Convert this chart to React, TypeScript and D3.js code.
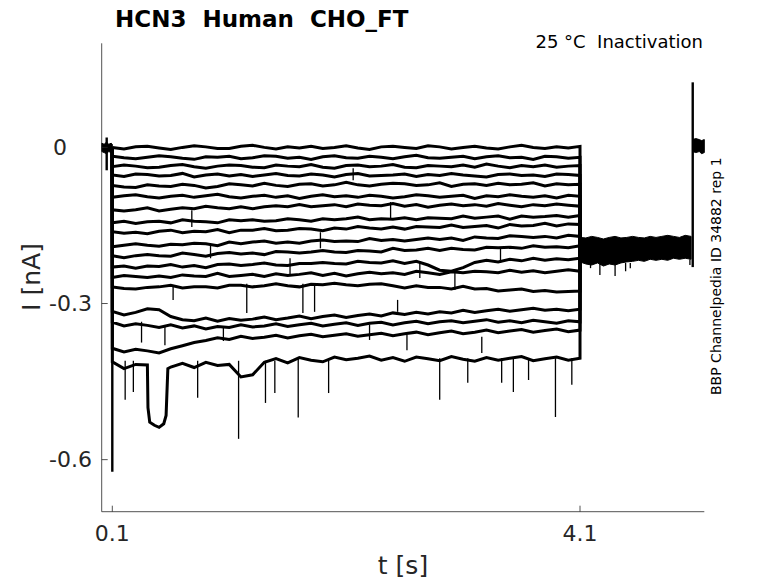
import { useRef, useEffect } from 'react';
import * as d3 from 'd3';

const W = 778;
const H = 583;

// sweeps are sampled every 0.1 s from 0.1 s to 4.1 s (values in nA)
const SWEEP_T0 = 0.1;
const SWEEP_DT = 0.1;

const sweep01 = [0.000, -0.003, 0.001, 0.002, -0.001, -0.004, 0.000, 0.003, 0.001, -0.002, -0.002, 0.002, 0.004, 0.000, -0.003, 0.001, -0.001, 0.002, -0.002, 0.000, 0.003, -0.001, -0.004, 0.001, 0.002, 0.000, -0.002, 0.003, 0.001, -0.003, 0.000, 0.002, -0.001, -0.003, 0.001, 0.004, 0.000, -0.002, 0.001, -0.001, 0.002];
const sweep02 = [-0.017, -0.020, -0.022, -0.019, -0.016, -0.018, -0.021, -0.023, -0.018, -0.019, -0.017, -0.022, -0.020, -0.016, -0.017, -0.021, -0.019, -0.023, -0.018, -0.016, -0.020, -0.021, -0.017, -0.019, -0.022, -0.018, -0.015, -0.020, -0.021, -0.019, -0.017, -0.022, -0.018, -0.016, -0.020, -0.019, -0.023, -0.017, -0.018, -0.021, -0.019];
const sweep03 = [-0.037, -0.034, -0.036, -0.039, -0.038, -0.035, -0.033, -0.037, -0.040, -0.036, -0.034, -0.035, -0.038, -0.039, -0.034, -0.036, -0.037, -0.033, -0.038, -0.040, -0.035, -0.034, -0.037, -0.036, -0.033, -0.038, -0.039, -0.035, -0.036, -0.037, -0.034, -0.038, -0.032, -0.036, -0.039, -0.035, -0.037, -0.034, -0.038, -0.036, -0.035];
const sweep04 = [-0.053, -0.056, -0.051, -0.052, -0.055, -0.054, -0.050, -0.057, -0.053, -0.051, -0.055, -0.052, -0.056, -0.053, -0.050, -0.054, -0.055, -0.051, -0.053, -0.057, -0.052, -0.050, -0.055, -0.054, -0.053, -0.051, -0.056, -0.052, -0.054, -0.050, -0.053, -0.055, -0.057, -0.052, -0.051, -0.054, -0.053, -0.056, -0.051, -0.052, -0.054];
const sweep05 = [-0.073, -0.076, -0.077, -0.072, -0.074, -0.075, -0.071, -0.073, -0.078, -0.075, -0.070, -0.072, -0.074, -0.069, -0.073, -0.075, -0.071, -0.070, -0.074, -0.072, -0.067, -0.072, -0.074, -0.071, -0.069, -0.070, -0.073, -0.072, -0.068, -0.075, -0.071, -0.070, -0.073, -0.069, -0.072, -0.071, -0.068, -0.074, -0.070, -0.072, -0.071];
const sweep06 = [-0.096, -0.093, -0.091, -0.095, -0.097, -0.094, -0.092, -0.096, -0.093, -0.090, -0.095, -0.097, -0.094, -0.092, -0.096, -0.093, -0.098, -0.094, -0.091, -0.095, -0.093, -0.096, -0.092, -0.094, -0.097, -0.095, -0.091, -0.093, -0.096, -0.094, -0.092, -0.098, -0.093, -0.095, -0.091, -0.094, -0.096, -0.093, -0.097, -0.092, -0.094];
const sweep07 = [-0.120, -0.122, -0.120, -0.116, -0.122, -0.119, -0.116, -0.118, -0.113, -0.116, -0.118, -0.114, -0.118, -0.114, -0.112, -0.114, -0.110, -0.114, -0.112, -0.110, -0.114, -0.109, -0.111, -0.112, -0.108, -0.113, -0.110, -0.115, -0.111, -0.109, -0.112, -0.110, -0.113, -0.108, -0.111, -0.114, -0.110, -0.112, -0.109, -0.111, -0.113];
const sweep08 = [-0.145, -0.142, -0.146, -0.143, -0.142, -0.145, -0.139, -0.142, -0.143, -0.145, -0.139, -0.141, -0.139, -0.142, -0.141, -0.137, -0.139, -0.142, -0.137, -0.139, -0.137, -0.134, -0.139, -0.137, -0.138, -0.135, -0.139, -0.135, -0.136, -0.137, -0.132, -0.136, -0.134, -0.132, -0.138, -0.132, -0.134, -0.133, -0.131, -0.134, -0.131];
const sweep09 = [-0.162, -0.165, -0.163, -0.166, -0.161, -0.159, -0.164, -0.161, -0.162, -0.158, -0.164, -0.159, -0.159, -0.156, -0.160, -0.159, -0.156, -0.157, -0.160, -0.155, -0.157, -0.152, -0.155, -0.157, -0.153, -0.157, -0.152, -0.153, -0.154, -0.149, -0.154, -0.152, -0.150, -0.155, -0.148, -0.151, -0.150, -0.146, -0.151, -0.147, -0.148];
const sweep10 = [-0.191, -0.188, -0.185, -0.188, -0.190, -0.186, -0.187, -0.184, -0.185, -0.189, -0.182, -0.185, -0.182, -0.180, -0.184, -0.182, -0.184, -0.180, -0.178, -0.181, -0.180, -0.181, -0.175, -0.179, -0.177, -0.180, -0.177, -0.174, -0.177, -0.174, -0.179, -0.172, -0.174, -0.175, -0.170, -0.171, -0.173, -0.171, -0.174, -0.169, -0.171];
const sweep11 = [-0.208, -0.212, -0.208, -0.206, -0.208, -0.209, -0.203, -0.206, -0.209, -0.204, -0.202, -0.205, -0.203, -0.206, -0.200, -0.201, -0.203, -0.201, -0.198, -0.201, -0.202, -0.198, -0.199, -0.201, -0.194, -0.198, -0.197, -0.194, -0.198, -0.194, -0.196, -0.197, -0.192, -0.193, -0.192, -0.194, -0.189, -0.192, -0.191, -0.193, -0.189];
const sweep12 = [-0.230, -0.228, -0.232, -0.228, -0.229, -0.225, -0.230, -0.227, -0.231, -0.225, -0.224, -0.227, -0.225, -0.222, -0.226, -0.227, -0.223, -0.223, -0.221, -0.223, -0.224, -0.219, -0.221, -0.222, -0.218, -0.223, -0.219, -0.226, -0.236, -0.238, -0.231, -0.221, -0.217, -0.220, -0.215, -0.218, -0.213, -0.217, -0.214, -0.216, -0.213];
const sweep13 = [-0.250, -0.246, -0.248, -0.250, -0.247, -0.250, -0.245, -0.247, -0.248, -0.242, -0.248, -0.246, -0.244, -0.248, -0.243, -0.246, -0.244, -0.241, -0.246, -0.242, -0.247, -0.243, -0.240, -0.243, -0.241, -0.244, -0.238, -0.241, -0.244, -0.239, -0.241, -0.238, -0.239, -0.241, -0.236, -0.240, -0.237, -0.241, -0.238, -0.235, -0.238];
const sweep14 = [-0.268, -0.271, -0.272, -0.269, -0.268, -0.265, -0.270, -0.268, -0.268, -0.270, -0.265, -0.265, -0.268, -0.266, -0.262, -0.266, -0.268, -0.263, -0.264, -0.261, -0.264, -0.266, -0.263, -0.262, -0.266, -0.270, -0.266, -0.269, -0.269, -0.272, -0.267, -0.272, -0.271, -0.276, -0.274, -0.272, -0.277, -0.275, -0.278, -0.277, -0.276];
const sweep15 = [-0.315, -0.322, -0.317, -0.310, -0.312, -0.325, -0.331, -0.333, -0.328, -0.334, -0.329, -0.332, -0.330, -0.326, -0.331, -0.328, -0.324, -0.329, -0.325, -0.322, -0.327, -0.323, -0.320, -0.324, -0.318, -0.321, -0.317, -0.320, -0.316, -0.318, -0.313, -0.317, -0.314, -0.311, -0.315, -0.312, -0.309, -0.313, -0.311, -0.314, -0.311];
const sweep16 = [-0.336, -0.343, -0.339, -0.342, -0.346, -0.341, -0.347, -0.343, -0.349, -0.344, -0.346, -0.341, -0.345, -0.343, -0.339, -0.344, -0.341, -0.338, -0.343, -0.340, -0.337, -0.342, -0.338, -0.336, -0.341, -0.337, -0.334, -0.339, -0.335, -0.333, -0.337, -0.334, -0.331, -0.336, -0.333, -0.337, -0.332, -0.335, -0.338, -0.333, -0.335];
const sweep17 = [-0.386, -0.393, -0.388, -0.391, -0.395, -0.387, -0.381, -0.375, -0.371, -0.366, -0.369, -0.363, -0.367, -0.365, -0.361, -0.366, -0.362, -0.359, -0.364, -0.361, -0.358, -0.363, -0.360, -0.357, -0.362, -0.358, -0.355, -0.360, -0.356, -0.353, -0.358, -0.355, -0.351, -0.356, -0.353, -0.350, -0.355, -0.352, -0.349, -0.354, -0.351];
const sweep18 = [-0.412, -0.425, -0.417, -0.418, -0.538, -0.422, -0.415, -0.423, -0.413, -0.419, -0.417, -0.441, -0.437, -0.413, -0.406, -0.414, -0.404, -0.409, -0.412, -0.403, -0.408, -0.405, -0.401, -0.409, -0.404, -0.411, -0.403, -0.406, -0.410, -0.402, -0.407, -0.411, -0.404, -0.409, -0.405, -0.402, -0.410, -0.406, -0.403, -0.409, -0.405];
// the long closure early in the last sweep: [t, nA]
const sweep18Extra: [number, number][] = [
  [0.405, -0.5], [0.42, -0.528], [0.46, -0.534], [0.54, -0.531], [0.56, -0.515], [0.575, -0.425],
];

const sweeps = [
  sweep01, sweep02, sweep03, sweep04, sweep05, sweep06, sweep07, sweep08, sweep09,
  sweep10, sweep11, sweep12, sweep13, sweep14, sweep15, sweep16, sweep17, sweep18,
];
const sweepExtras: Record<number, [number, number][]> = { 17: sweep18Extra };

// holding before the step, all sweeps overlap
const preTimes = [0.01, 0.03, 0.05, 0.07, 0.09, 0.1];
const preHi = [0.008, 0.006, 0.010, 0.006, 0.008, 0.006];
const preLo = [-0.008, -0.010, -0.012, -0.008, -0.010, -0.008];

// tail after the step, all sweeps overlap
const tailTimes = [4.10, 4.15, 4.20, 4.25, 4.30, 4.35, 4.40, 4.45, 4.50, 4.55, 4.60, 4.65, 4.70, 4.75, 4.80, 4.85, 4.90, 4.95, 5.00, 5.05];
const tailHi = [-0.173, -0.174, -0.171, -0.173, -0.176, -0.173, -0.171, -0.174, -0.173, -0.171, -0.173, -0.174, -0.171, -0.173, -0.171, -0.169, -0.171, -0.173, -0.169, -0.171];
const tailLo = [-0.220, -0.224, -0.226, -0.222, -0.228, -0.224, -0.226, -0.222, -0.220, -0.219, -0.217, -0.219, -0.215, -0.217, -0.215, -0.217, -0.213, -0.215, -0.213, -0.215];

// back at holding
const postTimes = [5.064, 5.09, 5.12, 5.14, 5.163];
const postHi = [0.015, 0.017, 0.015, 0.013, 0.015];
const postLo = [-0.008, -0.010, -0.008, -0.012, -0.010];

// capacitive transients: [t, from, to]
const transients: [number, number, number][] = [
  [0.052, 0.019, -0.044],
  [0.1, 0.0, -0.623],
  [5.064, 0.125, -0.230],
];

// short openings / glitches: [t, from, to]
const spikes: [number, number, number][] = [
  [0.21, -0.41, -0.485], [0.28, -0.41, -0.47], [0.83, -0.41, -0.481], [1.18, -0.41, -0.56],
  [1.41, -0.41, -0.491], [1.49, -0.41, -0.472], [1.69, -0.405, -0.519], [1.95, -0.405, -0.472],
  [2.9, -0.405, -0.485], [3.14, -0.405, -0.452], [3.43, -0.405, -0.452], [3.53, -0.405, -0.47],
  [3.66, -0.405, -0.447], [3.89, -0.405, -0.518], [4.03, -0.405, -0.456],
  [0.62, -0.265, -0.293], [1.25, -0.262, -0.318], [1.73, -0.262, -0.318], [1.83, -0.262, -0.316],
  [2.54, -0.293, -0.316], [0.78, -0.121, -0.153], [2.16, -0.04, -0.063], [2.48, -0.105, -0.136],
  [3.26, -0.364, -0.395], [0.94, -0.188, -0.213], [1.62, -0.213, -0.245], [1.88, -0.163, -0.194],
  [2.73, -0.22, -0.251], [3.03, -0.236, -0.274], [3.42, -0.194, -0.222],
  [0.35, -0.335, -0.375], [0.55, -0.345, -0.38], [1.05, -0.345, -0.372], [2.3, -0.34, -0.37],
  [2.62, -0.36, -0.39],
  [4.19, -0.224, -0.232], [4.27, -0.224, -0.245], [4.4, -0.224, -0.247], [4.49, -0.222, -0.238],
  [4.53, -0.222, -0.232], [5.04, -0.215, -0.226],
];

const xTicks = [0.1, 4.1];
const yTicks = [-0.6, -0.3, 0];

const FONT = "'DejaVu Sans', sans-serif";
const AXIS = '#262626';

export default function App() {
  const svgRef = useRef<SVGSVGElement>(null);

  useEffect(() => {
    const svg = d3.select(svgRef.current);
    svg.selectAll('*').remove();

    const x = d3.scaleLinear().domain([0.0093, 5.163]).range([101.7, 704.3]);
    const y = d3.scaleLinear().domain([-0.7, 0.2]).range([511.7, 43.3]);

    svg.append('rect').attr('width', W).attr('height', H).attr('fill', '#fff');

    const plot = svg.append('g');

    const drawBand = (ts: number[], hi: number[], lo: number[]) => {
      const a = d3
        .area<number>()
        .x((t) => x(t))
        .y0((_, i) => y(lo[i]))
        .y1((_, i) => y(hi[i]));
      plot
        .append('path')
        .attr('d', a(ts))
        .attr('fill', '#000')
        .attr('stroke', '#000')
        .attr('stroke-width', 1);
    };

    drawBand(preTimes, preHi, preLo);
    drawBand(tailTimes, tailHi, tailLo);
    drawBand(postTimes, postHi, postLo);

    const tailMid = (tailHi[0] + tailLo[0]) / 2;
    const line = d3
      .line<[number, number]>()
      .x((d) => x(d[0]))
      .y((d) => y(d[1]));

    sweeps.forEach((s, k) => {
      const pts: [number, number][] = s.map((v, i) => [SWEEP_T0 + i * SWEEP_DT, v]);
      (sweepExtras[k] ?? []).forEach((p) => pts.push(p));
      pts.sort((a, b) => a[0] - b[0]);
      pts.unshift([SWEEP_T0, 0]);
      pts.push([SWEEP_T0 + (s.length - 1) * SWEEP_DT, tailMid]);
      plot
        .append('path')
        .attr('d', line(pts))
        .attr('fill', 'none')
        .attr('stroke', '#000')
        .attr('stroke-width', 3)
        .attr('stroke-linejoin', 'miter');
    });

    spikes.forEach(([t, a, b]) => {
      plot
        .append('line')
        .attr('x1', x(t))
        .attr('x2', x(t))
        .attr('y1', y(a))
        .attr('y2', y(b))
        .attr('stroke', '#000')
        .attr('stroke-width', 1.3);
    });

    transients.forEach(([t, a, b]) => {
      plot
        .append('line')
        .attr('x1', x(t))
        .attr('x2', x(t))
        .attr('y1', y(a))
        .attr('y2', y(b))
        .attr('stroke', '#000')
        .attr('stroke-width', 2.4);
    });

    // axes (box off, ticks pointing in)
    const [x0, x1] = x.range();
    const [yb, yt] = y.range();
    svg
      .append('line')
      .attr('x1', x0).attr('x2', x0).attr('y1', yb).attr('y2', yt)
      .attr('stroke', AXIS).attr('stroke-width', 0.8);
    svg
      .append('line')
      .attr('x1', x0).attr('x2', x1).attr('y1', yb).attr('y2', yb)
      .attr('stroke', AXIS).attr('stroke-width', 0.8);

    yTicks.forEach((t) => {
      svg
        .append('line')
        .attr('x1', x0).attr('x2', x0 + 6).attr('y1', y(t)).attr('y2', y(t))
        .attr('stroke', AXIS).attr('stroke-width', 0.8);
      svg
        .append('text')
        .attr('x', 92)
        .attr('y', y(t))
        .attr('dy', '0.35em')
        .attr('text-anchor', 'end')
        .attr('font-family', FONT)
        .attr('font-size', 22)
        .attr('fill', AXIS)
        .style('white-space', 'pre')
        .text(t === 0 ? '0\u2007\u2002' : t.toFixed(1));
    });

    xTicks.forEach((t) => {
      svg
        .append('line')
        .attr('x1', x(t)).attr('x2', x(t)).attr('y1', yb).attr('y2', yb - 6)
        .attr('stroke', AXIS).attr('stroke-width', 0.8);
      svg
        .append('text')
        .attr('x', x(t))
        .attr('y', 541)
        .attr('text-anchor', 'middle')
        .attr('font-family', FONT)
        .attr('font-size', 22)
        .attr('fill', AXIS)
        .text(t.toFixed(1));
    });

    svg
      .append('text')
      .attr('x', 403)
      .attr('y', 574)
      .attr('text-anchor', 'middle')
      .attr('font-family', FONT)
      .attr('font-size', 25)
      .attr('fill', AXIS)
      .text('t [s]');

    svg
      .append('text')
      .attr('transform', 'translate(40,277) rotate(-90)')
      .attr('text-anchor', 'middle')
      .attr('font-family', FONT)
      .attr('font-size', 25)
      .attr('fill', AXIS)
      .text('I [nA]');

    svg
      .append('text')
      .attr('x', 115)
      .attr('y', 27)
      .attr('font-family', FONT)
      .attr('font-size', 23)
      .attr('font-weight', 700)
      .attr('fill', '#000')
      .style('white-space', 'pre')
      .text('HCN3  Human  CHO_FT');

    svg
      .append('text')
      .attr('x', 703)
      .attr('y', 48)
      .attr('text-anchor', 'end')
      .attr('font-family', FONT)
      .attr('font-size', 18)
      .attr('fill', '#000')
      .style('white-space', 'pre')
      .text('25 \u00b0C  Inactivation');

    svg
      .append('text')
      .attr('transform', 'translate(721,395) rotate(-90)')
      .attr('font-family', FONT)
      .attr('font-size', 14)
      .attr('fill', '#000')
      .text('BBP Channelpedia ID 34882 rep 1');
  }, []);

  return (
    <svg
      ref={svgRef}
      width={W}
      height={H}
      style={{ position: 'absolute', left: 0, top: 0 }}
    />
  );
}
